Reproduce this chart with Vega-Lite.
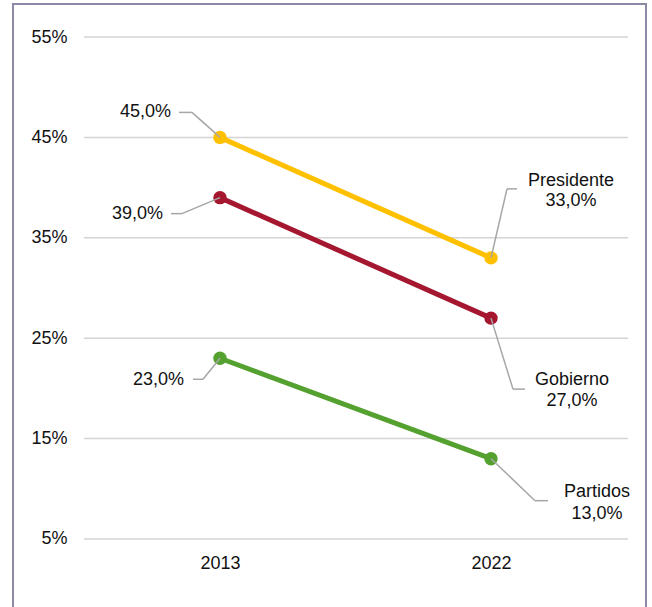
{
  "$schema": "https://vega.github.io/schema/vega-lite/v6.json",
  "autosize": {"type": "none"},
  "padding": {"left": 13, "top": 4, "right": 6, "bottom": -10},
  "width": 633,
  "height": 613,
  "background": "#ffffff",
  "config": {
    "locale": {"number": {"decimal": ",", "thousands": ".", "grouping": [3], "currency": ["", " €"]}},
    "view": {"stroke": "#8a8aa6", "strokeWidth": 2},
    "font": "Liberation Sans",
    "text": {"font": "Liberation Sans", "fontSize": 18, "color": "#111111"}
  },
  "data": {
    "values": [
      {"serie": "Presidente", "year": 2013, "pct": 0.45},
      {"serie": "Presidente", "year": 2022, "pct": 0.33},
      {"serie": "Gobierno", "year": 2013, "pct": 0.39},
      {"serie": "Gobierno", "year": 2022, "pct": 0.27},
      {"serie": "Partidos", "year": 2013, "pct": 0.23},
      {"serie": "Partidos", "year": 2022, "pct": 0.13}
    ]
  },
  "layer": [
    {
      "data": {"values": [{"v": 0.05}, {"v": 0.15}, {"v": 0.25}, {"v": 0.35}, {"v": 0.45}, {"v": 0.55}]},
      "mark": {"type": "rule", "color": "#d4d4d4", "strokeWidth": 1.5},
      "encoding": {
        "x": {"datum": 2008.4835, "type": "quantitative", "title": null},
        "x2": {"datum": 2026.5502},
        "y": {"field": "v", "type": "quantitative", "title": null}
      }
    },
    {
      "encoding": {
        "x": {
          "field": "year", "type": "quantitative",
          "scale": {"domain": [2006.1255, 2027.1477], "zero": false, "nice": false},
          "axis": {"title": null, "values": [2013, 2022], "format": "d", "ticks": false, "tickSize": 0, "domain": false, "grid": false, "labelPadding": 0, "offset": -63, "labelFontSize": 18, "labelFont": "Liberation Sans", "labelColor": "#111111"}
        },
        "y": {
          "field": "pct", "type": "quantitative",
          "scale": {"domain": [-0.02769, 0.58287], "zero": false, "nice": false},
          "axis": {"title": null, "values": [0.05, 0.15, 0.25, 0.35, 0.45, 0.55], "format": ".0%", "ticks": false, "tickSize": 0, "domain": false, "grid": false, "labelPadding": 0, "offset": -54, "labelFontSize": 18, "labelFont": "Liberation Sans", "labelColor": "#111111"}
        }
      },
      "layer": [
        {
          "mark": {"type": "line", "strokeWidth": 5},
          "encoding": {
            "color": {"field": "serie", "type": "nominal", "scale": {"domain": ["Presidente", "Gobierno", "Partidos"], "range": ["#ffc000", "#a5162f", "#55a130"]}, "legend": null}
          }
        },
        {
          "mark": {"type": "circle", "size": 180, "opacity": 1},
          "encoding": {
            "color": {"field": "serie", "type": "nominal", "legend": null}
          }
        },
        {
          "transform": [{"filter": "datum.serie === 'Presidente' && datum.year === 2013"}],
          "layer": [
            {"mark": {"type": "rule", "color": "#a6a6a6", "strokeWidth": 1.5, "x2Offset": -28, "y2Offset": -25}, "encoding": {"x2": {"field": "year"}, "y2": {"field": "pct"}}},
            {"mark": {"type": "rule", "color": "#a6a6a6", "strokeWidth": 1.5, "xOffset": -28, "yOffset": -25, "x2Offset": -41, "y2Offset": -25}, "encoding": {"x2": {"field": "year"}, "y2": {"field": "pct"}}},
            {"mark": {"type": "text", "align": "right", "baseline": "middle", "dx": -49, "dy": -25}, "encoding": {"text": {"field": "pct", "type": "quantitative", "format": ".1%"}}}
          ]
        },
        {
          "transform": [{"filter": "datum.serie === 'Gobierno' && datum.year === 2013"}],
          "layer": [
            {"mark": {"type": "rule", "color": "#a6a6a6", "strokeWidth": 1.5, "x2Offset": -38, "y2Offset": 16}, "encoding": {"x2": {"field": "year"}, "y2": {"field": "pct"}}},
            {"mark": {"type": "rule", "color": "#a6a6a6", "strokeWidth": 1.5, "xOffset": -38, "yOffset": 16, "x2Offset": -49, "y2Offset": 16}, "encoding": {"x2": {"field": "year"}, "y2": {"field": "pct"}}},
            {"mark": {"type": "text", "align": "right", "baseline": "middle", "dx": -57, "dy": 16}, "encoding": {"text": {"field": "pct", "type": "quantitative", "format": ".1%"}}}
          ]
        },
        {
          "transform": [{"filter": "datum.serie === 'Partidos' && datum.year === 2013"}],
          "layer": [
            {"mark": {"type": "rule", "color": "#a6a6a6", "strokeWidth": 1.5, "x2Offset": -17, "y2Offset": 21}, "encoding": {"x2": {"field": "year"}, "y2": {"field": "pct"}}},
            {"mark": {"type": "rule", "color": "#a6a6a6", "strokeWidth": 1.5, "xOffset": -17, "yOffset": 21, "x2Offset": -27, "y2Offset": 21}, "encoding": {"x2": {"field": "year"}, "y2": {"field": "pct"}}},
            {"mark": {"type": "text", "align": "right", "baseline": "middle", "dx": -36, "dy": 22}, "encoding": {"text": {"field": "pct", "type": "quantitative", "format": ".1%"}}}
          ]
        },
        {
          "transform": [{"filter": "datum.serie === 'Presidente' && datum.year === 2022"}],
          "layer": [
            {"mark": {"type": "rule", "color": "#a6a6a6", "strokeWidth": 1.5, "x2Offset": 16, "y2Offset": -69}, "encoding": {"x2": {"field": "year"}, "y2": {"field": "pct"}}},
            {"mark": {"type": "rule", "color": "#a6a6a6", "strokeWidth": 1.5, "xOffset": 16, "yOffset": -69, "x2Offset": 26, "y2Offset": -69}, "encoding": {"x2": {"field": "year"}, "y2": {"field": "pct"}}},
            {"mark": {"type": "text", "align": "center", "baseline": "middle", "dx": 80, "dy": -77}, "encoding": {"text": {"field": "serie", "type": "nominal"}}},
            {"mark": {"type": "text", "align": "center", "baseline": "middle", "dx": 80, "dy": -57}, "encoding": {"text": {"field": "pct", "type": "quantitative", "format": ".1%"}}}
          ]
        },
        {
          "transform": [{"filter": "datum.serie === 'Gobierno' && datum.year === 2022"}],
          "layer": [
            {"mark": {"type": "rule", "color": "#a6a6a6", "strokeWidth": 1.5, "x2Offset": 22, "y2Offset": 71}, "encoding": {"x2": {"field": "year"}, "y2": {"field": "pct"}}},
            {"mark": {"type": "rule", "color": "#a6a6a6", "strokeWidth": 1.5, "xOffset": 22, "yOffset": 71, "x2Offset": 34, "y2Offset": 71}, "encoding": {"x2": {"field": "year"}, "y2": {"field": "pct"}}},
            {"mark": {"type": "text", "align": "center", "baseline": "middle", "dx": 81, "dy": 62}, "encoding": {"text": {"field": "serie", "type": "nominal"}}},
            {"mark": {"type": "text", "align": "center", "baseline": "middle", "dx": 81, "dy": 83}, "encoding": {"text": {"field": "pct", "type": "quantitative", "format": ".1%"}}}
          ]
        },
        {
          "transform": [{"filter": "datum.serie === 'Partidos' && datum.year === 2022"}],
          "layer": [
            {"mark": {"type": "rule", "color": "#a6a6a6", "strokeWidth": 1.5, "x2Offset": 44, "y2Offset": 42}, "encoding": {"x2": {"field": "year"}, "y2": {"field": "pct"}}},
            {"mark": {"type": "rule", "color": "#a6a6a6", "strokeWidth": 1.5, "xOffset": 44, "yOffset": 42, "x2Offset": 57, "y2Offset": 42}, "encoding": {"x2": {"field": "year"}, "y2": {"field": "pct"}}},
            {"mark": {"type": "text", "align": "center", "baseline": "middle", "dx": 106, "dy": 33}, "encoding": {"text": {"field": "serie", "type": "nominal"}}},
            {"mark": {"type": "text", "align": "center", "baseline": "middle", "dx": 106, "dy": 55}, "encoding": {"text": {"field": "pct", "type": "quantitative", "format": ".1%"}}}
          ]
        }
      ]
    }
  ]
}
